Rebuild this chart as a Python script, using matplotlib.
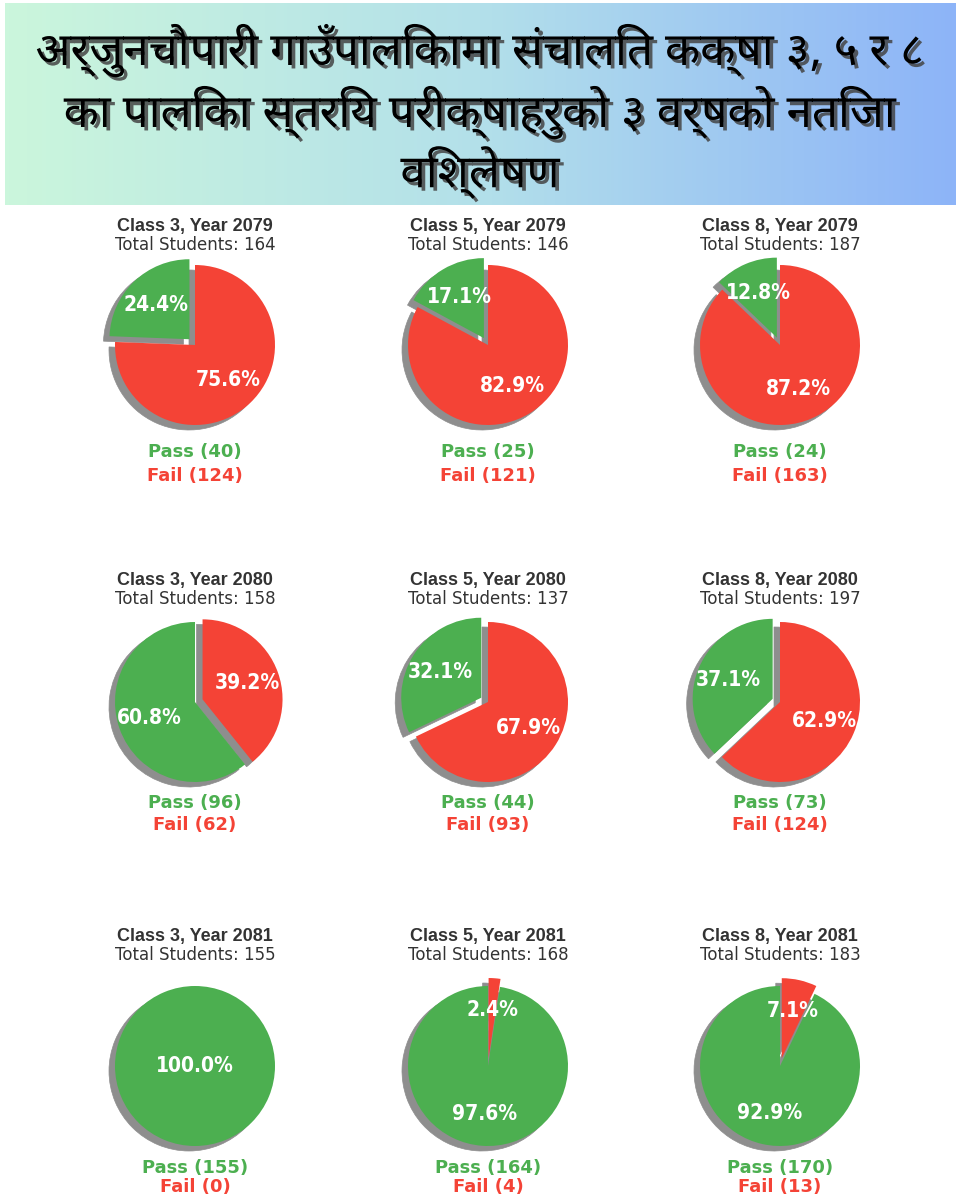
import numpy as np
import matplotlib
matplotlib.use('Agg')
import matplotlib.pyplot as plt
from matplotlib import font_manager, patheffects as pe
from matplotlib.colors import LinearSegmentedColormap
from matplotlib.font_manager import FontProperties
from matplotlib.patches import Wedge

# ---------------- data ----------------
title_lines = [
    "अर्जुनचौपारी गाउँपालिकामा संचालित कक्षा ३, ५ र ८",
    "का पालिका स्तरिय परीक्षाहरुको ३ वर्षको नतिजा",
    "विश्लेषण",
]
classes = ["Class 3", "Class 5", "Class 8"]
years = ["2079", "2080", "2081"]
pass_counts = [[40, 25, 24], [96, 44, 73], [155, 164, 170]]   # rows = years
fail_counts = [[124, 121, 163], [62, 93, 124], [0, 4, 13]]

GREEN = "#4CAF50"
RED = "#F44336"
SHADOW = "#8e8e8e"

# ---------------- font helpers ----------------
def wnum(w):
    if isinstance(w, int):
        return w
    return font_manager.weight_dict.get(str(w), 400)

def font_file(name, target=700):
    best = None
    for fe in font_manager.fontManager.ttflist:
        if fe.name != name or fe.style != "normal":
            continue
        score = abs(wnum(fe.weight) - target) + (0 if fe.stretch == "normal" else 50)
        if best is None or score < best[0]:
            best = (score, fe.fname)
    return best[1] if best else None

def fp(path, fallback_family, size, weight="normal", stretch="normal"):
    if path:
        return FontProperties(fname=path, size=size)
    return FontProperties(family=fallback_family, size=size, weight=weight, stretch=stretch)

deva_file = None
for nm in ["Noto Sans Devanagari", "Mukta", "Hind", "Yantramanav"]:
    deva_file = font_file(nm, target=800)
    if deva_file:
        break

narrow_bold = None
lib_bold = None
for fe in font_manager.fontManager.ttflist:
    base = fe.fname.split("/")[-1]
    if base.startswith("LiberationSansNarrow-Bold."):
        narrow_bold = fe.fname
    if base == "LiberationSans-Bold.ttf":
        lib_bold = fe.fname

W, H = 960, 1200
fig = plt.figure(figsize=(W / 100, H / 100), dpi=100)
fig.patch.set_facecolor("white")

# ---------------- banner ----------------
bx0, by0, bx1, by1 = 5, 3, 955, 205
bax = fig.add_axes([bx0 / W, 1 - by1 / H, (bx1 - bx0) / W, (by1 - by0) / H])
cmap = LinearSegmentedColormap.from_list("ban", ["#cbf6dc", "#b3e0ea", "#8db4f8"])
bax.imshow(np.linspace(0, 1, 256)[None, :], aspect="auto", cmap=cmap, extent=[0, 1, 0, 1])
bax.set_xlim(0, 1)
bax.set_ylim(0, 1)
bax.axis("off")
line_y = [50, 112, 172]
title_fp = fp(deva_file, ["DejaVu Sans"], 33, weight="bold")
for t, y in zip(title_lines, line_y):
    fig.text(0.5, 1 - y / H, t, ha="center", va="center", fontproperties=title_fp, color="black",
             path_effects=[pe.withSimplePatchShadow(offset=(2.5, -2.5), shadow_rgbFace="#444444", alpha=0.85)])

# ---------------- pies ----------------
col_x = [195, 488, 780]
row_pie_y = [345, 702, 1066]
row_title_y = [226, 580, 936]
row_pass_y = [452, 803, 1168]
row_fail_gap = [24, 22, 19]
R = 80  # pixel radius
sh_dx, sh_dy = -6.0 / R, -5.0 / R

head_fp = fp(lib_bold, ["Liberation Sans", "DejaVu Sans"], 13, weight="bold")
sub_fp = FontProperties(family="DejaVu Sans", size=12)
pf_fp = FontProperties(family="DejaVu Sans", size=13, weight="bold")
pct_fp = fp(narrow_bold, ["DejaVu Sans"], 15, weight="bold", stretch="condensed")

for r in range(3):
    for c in range(3):
        p = pass_counts[r][c]
        f = fail_counts[r][c]
        cx, cy = col_x[c], row_pie_y[r]
        half = 1.5 * R
        ax = fig.add_axes([(cx - half) / W, 1 - (cy + half) / H, 2 * half / W, 2 * half / H])
        vals = [p, f]
        explode = [0.1, 0] if p < f else [0, 0.1]
        total = p + f

        def fmt(pct):
            return "" if pct < 0.05 else f"{pct:.1f}%"

        wedges, texts, autotexts = ax.pie(
            vals, colors=[GREEN, RED], startangle=90, counterclock=True,
            explode=explode, autopct=fmt, pctdistance=0.6,
            wedgeprops={"linewidth": 0},
        )
        for w in wedges:
            if abs(w.theta2 - w.theta1) < 0.01:
                continue
            ax.add_patch(Wedge((w.center[0] + sh_dx, w.center[1] + sh_dy), w.r, w.theta1, w.theta2,
                               facecolor=SHADOW, edgecolor=SHADOW, linewidth=0.5, zorder=0.5))
        for w, at in zip(wedges, autotexts):
            at.set_color("white")
            at.set_fontproperties(pct_fp)
            if abs(w.theta2 - w.theta1) >= 359.9:
                at.set_position(w.center)
        ax.set_xlim(-1.5, 1.5)
        ax.set_ylim(-1.5, 1.5)
        ax.set_aspect("equal")
        ax.axis("off")

        ty = row_title_y[r]
        fig.text(cx / W, 1 - ty / H, f"{classes[c]}, Year {years[r]}", ha="center", va="center",
                 fontproperties=head_fp, color="#333333")
        fig.text(cx / W, 1 - (ty + 19) / H, f"Total Students: {total}", ha="center", va="center",
                 fontproperties=sub_fp, color="#333333")
        py = row_pass_y[r]
        fig.text(cx / W, 1 - py / H, f"Pass ({p})", ha="center", va="center",
                 fontproperties=pf_fp, color=GREEN)
        fig.text(cx / W, 1 - (py + row_fail_gap[r]) / H, f"Fail ({f})", ha="center", va="center",
                 fontproperties=pf_fp, color=RED)

fig.savefig("out.png", dpi=100, facecolor="white")
